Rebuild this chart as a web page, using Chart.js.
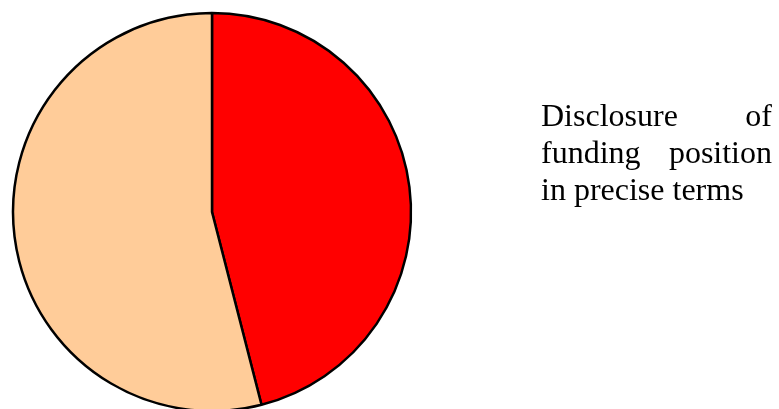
<!DOCTYPE html>
<html>
<head>
<meta charset="utf-8">
<script src="https://cdn.jsdelivr.net/npm/chart.js@4/dist/chart.umd.min.js"></script>
<style>
  html, body { margin: 0; padding: 0; background: #fff; }
  canvas { display: block; }
</style>
</head>
<body>
<canvas id="chart" width="779" height="409"></canvas>
<script>
// slices, clockwise from 12 o'clock
const categories = ['Disclosure of funding position in precise terms', 'Not disclosed']
const shares = [46, 54]
const sliceColors = ['#ff0000', '#ffcc99']

// caption beside the pie, one entry per printed line
const captionLines = ['Disclosure of', 'funding position', 'in precise terms']

// justified caption block to the right of the pie
const captionPlugin = {
  id: 'caption',
  afterDraw (chart) {
    const ctx = chart.ctx
    const left = 541
    const width = 231
    const top = 126
    const lineHeight = 37
    ctx.save()
    ctx.fillStyle = '#000'
    ctx.font = '32px "Liberation Serif", "Times New Roman", serif'
    ctx.textBaseline = 'alphabetic'
    captionLines.forEach((line, i) => {
      const y = top + i * lineHeight
      const words = line.split(' ')
      const last = i === captionLines.length - 1
      if (last || words.length < 2) {
        ctx.fillText(line, left, y)
        return
      }
      const used = words.reduce((s, w) => s + ctx.measureText(w).width, 0)
      const gap = (width - used) / (words.length - 1)
      let x = left
      words.forEach(w => {
        ctx.fillText(w, x, y)
        x += ctx.measureText(w).width + gap
      })
    })
    ctx.restore()
  }
}

const config = {
  type: 'pie',
  data: {
    labels: categories,
    datasets: [
      {
        data: shares,
        backgroundColor: sliceColors,
        borderColor: '#000',
        borderWidth: 2.5,
        radius: 199
      }
    ]
  },
  options: {
    responsive: false,
    animation: false,
    layout: {
      padding: { left: 12, right: 367, top: 15, bottom: 0 }
    },
    plugins: {
      legend: { display: false },
      tooltip: { enabled: false }
    }
  },
  plugins: [captionPlugin]
}

new Chart(document.getElementById('chart').getContext('2d'), config)
</script>
</body>
</html>
